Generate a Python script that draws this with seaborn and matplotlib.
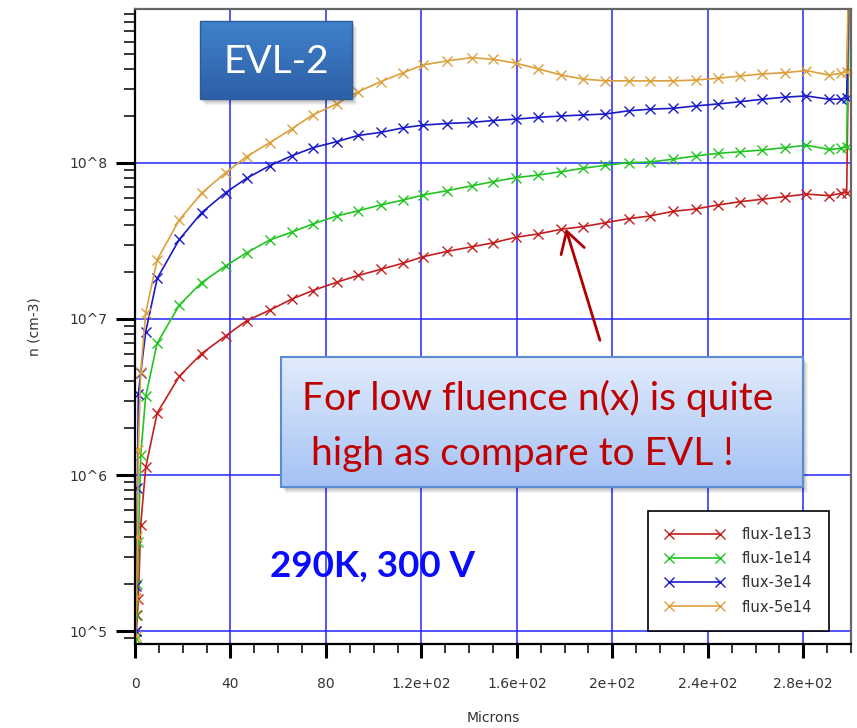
import numpy as np
import pandas as pd
import matplotlib
matplotlib.use("Agg")
import matplotlib.pyplot as plt
import seaborn as sns
from matplotlib.ticker import LogLocator, MultipleLocator, NullFormatter
from matplotlib.patches import Rectangle
from matplotlib.colors import LinearSegmentedColormap
from matplotlib.lines import Line2D

# Depth through the sensor (microns) and electron density n (cm^-3) per fluence
depth_um = [0.3, 0.6, 1.0, 1.4, 2.4, 4.5, 9.3, 18.6, 27.9, 38.0, 46.8, 56.5, 65.6,
            74.4, 84.5, 93.5, 102.9, 112.4, 120.8, 130.7, 141.0, 150.1, 159.6,
            168.9, 178.7, 187.8, 197.1, 206.9, 215.7, 225.5, 234.9, 244.3, 253.7,
            262.7, 272.3, 281.3, 290.8, 296.0, 298.2, 300.0]

flux_1e13 = [7.9e4, 1.0e5, 1.26e5, 1.6e5, 4.8e5, 1.12e6, 2.5e6, 4.3e6, 6.0e6, 7.8e6,
             9.75e6, 1.14e7, 1.34e7, 1.52e7, 1.72e7, 1.90e7, 2.08e7, 2.28e7, 2.51e7,
             2.71e7, 2.90e7, 3.08e7, 3.34e7, 3.51e7, 3.76e7, 3.91e7, 4.14e7, 4.40e7,
             4.57e7, 4.90e7, 5.07e7, 5.38e7, 5.65e7, 5.85e7, 6.08e7, 6.32e7, 6.17e7,
             6.40e7, 6.46e7, 1.0e10]

flux_1e14 = [8.9e4, 1.26e5, 2.0e5, 3.7e5, 1.35e6, 3.2e6, 7.0e6, 1.23e7, 1.71e7, 2.19e7,
             2.66e7, 3.21e7, 3.60e7, 4.06e7, 4.57e7, 4.94e7, 5.38e7, 5.79e7, 6.24e7,
             6.64e7, 7.13e7, 7.59e7, 8.05e7, 8.37e7, 8.79e7, 9.25e7, 9.66e7, 1.005e8,
             1.014e8, 1.057e8, 1.11e8, 1.153e8, 1.18e8, 1.21e8, 1.253e8, 1.30e8,
             1.22e8, 1.24e8, 1.27e8, 1.0e10]

flux_3e14 = [1.0e5, 1.95e5, 8.3e5, 3.3e6, 4.5e6, 8.3e6, 1.82e7, 3.24e7, 4.80e7, 6.46e7,
             7.98e7, 9.62e7, 1.11e8, 1.25e8, 1.37e8, 1.50e8, 1.57e8, 1.68e8, 1.75e8,
             1.79e8, 1.82e8, 1.87e8, 1.91e8, 1.96e8, 2.00e8, 2.03e8, 2.06e8, 2.16e8,
             2.21e8, 2.24e8, 2.32e8, 2.39e8, 2.47e8, 2.56e8, 2.64e8, 2.69e8, 2.56e8,
             2.57e8, 2.60e8, 1.0e10]

flux_5e14 = [9.3e4, 1.62e5, 4.0e5, 1.45e6, 4.6e6, 1.10e7, 2.40e7, 4.32e7, 6.40e7, 8.67e7,
             1.10e8, 1.35e8, 1.65e8, 2.03e8, 2.39e8, 2.86e8, 3.32e8, 3.79e8, 4.25e8,
             4.51e8, 4.73e8, 4.62e8, 4.36e8, 4.01e8, 3.66e8, 3.45e8, 3.36e8, 3.36e8,
             3.36e8, 3.36e8, 3.40e8, 3.49e8, 3.61e8, 3.72e8, 3.79e8, 3.91e8, 3.66e8,
             3.76e8, 3.85e8, 1.0e10]

series_labels = ["flux-1e13", "flux-1e14", "flux-3e14", "flux-5e14"]
series_colors = ["#c41e1e", "#22c422", "#1a1ac8", "#dca03c"]

x_ticks = [0, 40, 80, 120, 160, 200, 240, 280]
x_tick_labels = ["0", "40", "80", "1.2e+02", "1.6e+02", "2e+02", "2.4e+02", "2.8e+02"]
y_ticks = [1e5, 1e6, 1e7, 1e8]
y_tick_labels = ["10^5", "10^6", "10^7", "10^8"]

frames = []
for label, vals in zip(series_labels, [flux_1e13, flux_1e14, flux_3e14, flux_5e14]):
    frames.append(pd.DataFrame({"depth": depth_um, "n": vals, "series": label}))
df = pd.concat(frames, ignore_index=True)

sns.set_theme(style="white")
plt.rcParams["font.family"] = ["DejaVu Sans"]

W, H = 857, 728
fig = plt.figure(figsize=(W / 100, H / 100), dpi=100)
fig.patch.set_facecolor("white")

ax = fig.add_axes([135 / W, 1 - 644 / H, (851 - 135) / W, (644 - 9) / H], zorder=0)
palette = dict(zip(series_labels, series_colors))
sns.lineplot(data=df, x="depth", y="n", hue="series", palette=palette,
             estimator=None, sort=False, marker="x", markersize=7.5,
             markeredgewidth=1.0, linewidth=1.2, legend=False, ax=ax)
for line in ax.lines:
    line.set_markeredgecolor(line.get_color())

ax.set_yscale("log")
ax.set_xlim(0, 300)
ax.set_ylim(8.26e4, 9.7e8)

ax.set_xticks(x_ticks, x_tick_labels)
ax.xaxis.set_minor_locator(MultipleLocator(10))
ax.set_yticks(y_ticks, y_tick_labels)
ax.yaxis.set_minor_locator(LogLocator(base=10, subs=range(2, 10), numticks=20))
ax.yaxis.set_minor_formatter(NullFormatter())

ax.tick_params(axis="x", which="major", direction="out", length=10, width=2.2,
               color="black", labelsize=10, labelcolor="#333333", pad=14,
               bottom=True, top=False)
ax.tick_params(axis="x", which="minor", direction="out", length=6.5, width=1.1,
               color="black", bottom=True, top=False)
ax.tick_params(axis="y", which="major", direction="out", length=14, width=2.2,
               color="black", labelsize=10, labelcolor="#333333", pad=6,
               left=True, right=False)
ax.tick_params(axis="y", which="minor", direction="out", length=8, width=1.1,
               color="black", left=True, right=False)

ax.set_xlabel("Microns", fontsize=10, color="#333333", labelpad=14)
ax.set_ylabel("n (cm-3)", fontsize=10, color="#333333", labelpad=20)

ax.grid(True, which="major", color="#2424ff", linewidth=1.1)
ax.set_axisbelow(True)
for side in ["left", "bottom"]:
    ax.spines[side].set_color("black")
    ax.spines[side].set_linewidth(1.6)
for side in ["top", "right"]:
    ax.spines[side].set_color("#666666")
    ax.spines[side].set_linewidth(1.6)

handles = [Line2D([0], [0], color=c, lw=1.2, marker="x", markersize=7.5,
                  markeredgewidth=1.0) for c in series_colors]
leg = ax.legend(handles, series_labels, loc="lower right",
                bbox_to_anchor=((829 - 135) / 716, (644 - 631) / 635),
                borderaxespad=0, fontsize=10.7, numpoints=2, handlelength=4.0,
                handletextpad=1.2, borderpad=1.1, labelspacing=0.62,
                fancybox=False, framealpha=1, edgecolor="black")
leg.get_frame().set_linewidth(1.2)
for t in leg.get_texts():
    t.set_color("#333333")

# Arrow pointing at the low-fluence curve
ax.annotate("", xy=(180.5, 3.8e7), xytext=(194.8, 7.3e6),
            arrowprops=dict(arrowstyle="->,head_length=0.6,head_width=0.35",
                            color="#b00000", lw=2, mutation_scale=25,
                            shrinkA=0, shrinkB=0))


def shadow(l, t, r, b, z=1):
    for k in range(1, 7):
        fig.add_artist(Rectangle(((l + k * 0.8) / W, 1 - (b + k * 1.0) / H),
                                 (r - l) / W, (b - t) / H,
                                 transform=fig.transFigure, color="black",
                                 alpha=0.05, lw=0, zorder=z))


def gradient_box(l, t, r, b, top, bottom, edge, lw):
    bax = fig.add_axes([l / W, 1 - b / H, (r - l) / W, (b - t) / H], zorder=2)
    grad = np.linspace(0, 1, 256)[:, None]
    cmap = LinearSegmentedColormap.from_list("box", [top, bottom])
    bax.imshow(grad, aspect="auto", cmap=cmap, extent=[0, 1, 0, 1], origin="upper")
    bax.set_axis_off()
    bax.add_patch(Rectangle((0, 0), 1, 1, transform=bax.transAxes, fill=False,
                            ec=edge, lw=lw, clip_on=False))
    return bax


shadow(200, 21, 352, 99)
gradient_box(200, 21, 352, 99, "#3f82cc", "#2e5fa6", "#2c5b9c", 1.0)
fig.text(276 / W, 1 - 73 / H, "EVL-2", color="white", fontsize=28,
         family="Lato", ha="center", va="baseline", zorder=5)

shadow(281, 357, 803, 487)
gradient_box(281, 357, 803, 487, "#e2ecfc", "#a4c2f4", "#5b8bd0", 1.5)
fig.text(302 / W, 1 - 410 / H, "For low fluence n(x) is quite", color="#c00000",
         fontsize=28, family="Lato", ha="left", va="baseline", zorder=5)
fig.text(301 / W, 1 - 465 / H, " high as compare to EVL !", color="#c00000",
         fontsize=28, family="Lato", ha="left", va="baseline", zorder=5)

fig.text(270 / W, 1 - 577 / H, "290K, 300 V", color="#0a0aff", fontsize=26.5,
         family="Lato", fontweight="bold", ha="left", va="baseline", zorder=5)

fig.savefig("out.png", dpi=100)
